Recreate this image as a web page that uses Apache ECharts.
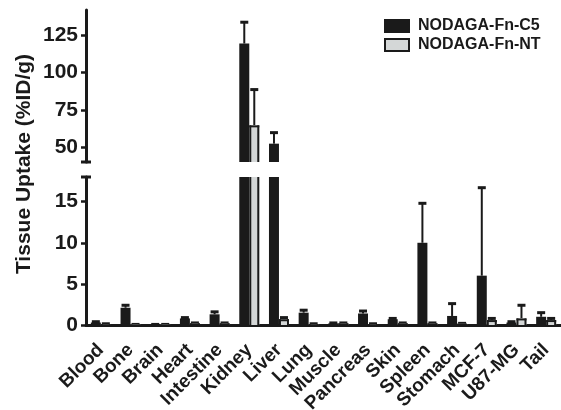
<!DOCTYPE html>
<html>
<head>
<meta charset="utf-8">
<script src="https://cdn.jsdelivr.net/npm/echarts@6/dist/echarts.min.js"></script>
<style>
html,body{margin:0;padding:0;background:#fff;}
#chart{width:561px;height:410px;}
</style>
</head>
<body>
<div id="chart"></div>
<script>
var categories = ['Blood','Bone','Brain','Heart','Intestine','Kidney','Liver','Lung','Muscle','Pancreas','Skin','Spleen','Stomach','MCF-7','U87-MG','Tail'];
var c5Values = [0.3, 2.1, 0.05, 0.8, 1.3, 119.5, 52.3, 1.5, 0.2, 1.4, 0.7, 10.0, 1.1, 6.0, 0.3, 1.0];
var c5Errors = [0.1, 0.3, 0.02, 0.1, 0.3, 14.3, 7.4, 0.3, 0.05, 0.3, 0.1, 4.8, 1.5, 10.7, 0.1, 0.5];
var ntValues = [0.1, 0.05, 0.05, 0.2, 0.2, 64.6, 0.7, 0.1, 0.2, 0.1, 0.2, 0.2, 0.15, 0.6, 0.8, 0.6];
var ntErrors = [0.05, 0.02, 0.02, 0.05, 0.05, 24, 0.2, 0.05, 0.05, 0.05, 0.05, 0.05, 0.05, 0.2, 1.6, 0.2];
var lowerTicks = [0, 5, 10, 15];
var upperTicks = [50, 75, 100, 125];
var seriesNames = ['NODAGA-Fn-C5', 'NODAGA-Fn-NT'];

var INK = '#1a1a1a';
var GRAY = '#d4d7d7';
var FONT = 'Liberation Sans, Arial, sans-serif';
var BAR_W = 10;
var chart = echarts.init(document.getElementById('chart'));

function clampY(y, cs) { return Math.min(Math.max(y, cs.y), cs.y + cs.height); }

// bar drawn with the axis scales; side: -1 = left of category centre, 0 = right
function barSeries(name, values, xi, yi, fill, outlined, side) {
  return {
    type: 'custom',
    name: name,
    xAxisIndex: xi, yAxisIndex: yi,
    z: 2,
    itemStyle: {color: fill, borderColor: INK, borderWidth: outlined ? 2 : 0},
    data: values.map(function (v, i) { return [i, v]; }),
    renderItem: function (params, api) {
      var cs = params.coordSys;
      var i = api.value(0), v = api.value(1);
      var pv = api.coord([i, v]);
      var pb = api.coord([i, 0]);
      var base = clampY(pb[1], cs);
      var top = clampY(pv[1], cs);
      if (top >= base) return null;
      var x0 = pv[0] + side * BAR_W;
      var x1 = x0 + BAR_W;
      var children = [{type: 'rect', shape: {x: x0, y: top, width: BAR_W, height: base - top}, style: {fill: fill}}];
      if (outlined) {
        var h = 1;
        children.push({type: 'line', shape: {x1: x0 + h, y1: top, x2: x0 + h, y2: base}, style: {stroke: INK, lineWidth: 2}});
        children.push({type: 'line', shape: {x1: x1 - h, y1: top, x2: x1 - h, y2: base}, style: {stroke: INK, lineWidth: 2}});
        if (pv[1] >= cs.y && pv[1] <= cs.y + cs.height) {
          children.push({type: 'line', shape: {x1: x0, y1: top + h, x2: x1, y2: top + h}, style: {stroke: INK, lineWidth: 2}});
        }
      }
      return {type: 'group', children: children};
    }
  };
}

function errorSeries(name, values, errors, xi, yi, offset) {
  return {
    type: 'custom',
    name: name,
    xAxisIndex: xi, yAxisIndex: yi,
    silent: true,
    z: 1,
    data: values.map(function (v, i) { return [i, v, v + errors[i]]; }),
    renderItem: function (params, api) {
      var cs = params.coordSys;
      var i = api.value(0);
      var p0 = api.coord([i, api.value(1)]);
      var p1 = api.coord([i, api.value(2)]);
      var x = p0[0] + offset;
      var y0 = clampY(p0[1], cs);
      var y1 = clampY(p1[1], cs);
      var children = [];
      if (y0 !== y1) {
        children.push({type: 'line', shape: {x1: x, y1: y0, x2: x, y2: y1}, style: {stroke: INK, lineWidth: 2}});
      }
      if (p1[1] >= cs.y && p1[1] <= cs.y + cs.height) {
        children.push({type: 'line', shape: {x1: x - 4, y1: p1[1], x2: x + 4, y2: p1[1]}, style: {stroke: INK, lineWidth: 3}});
      }
      return {type: 'group', children: children};
    }
  };
}

var labelStyle = {color: INK, fontSize: 21, fontWeight: 'bold', fontFamily: FONT, margin: 8};

var option = {
  animation: false,
  backgroundColor: '#fff',
  legend: {
    data: [
      {name: seriesNames[0], icon: 'rect', itemStyle: {color: INK, borderColor: INK, borderWidth: 2}},
      {name: seriesNames[1], icon: 'rect', itemStyle: {color: GRAY, borderColor: INK, borderWidth: 2}}
    ],
    orient: 'vertical',
    left: 384, top: 18, padding: 0,
    itemWidth: 24, itemHeight: 12, itemGap: 3,
    textStyle: {color: INK, fontSize: 16, fontWeight: 'bold', fontFamily: FONT, padding: [0, 0, 0, 4]}
  },
  graphic: [{
    type: 'text',
    x: 24, y: 164,
    rotation: Math.PI / 2,
    style: {text: 'Tissue Uptake (%ID/g)', font: 'bold 21px ' + FONT, fill: INK, textAlign: 'center', textVerticalAlign: 'middle'}
  }],
  grid: [
    {left: 86, right: 0, top: 177, height: 148, containLabel: false, outerBoundsMode: 'none'},
    {left: 86, right: 0, top: 10, height: 152, containLabel: false, outerBoundsMode: 'none'}
  ],
  xAxis: [
    {
      type: 'category', gridIndex: 0, data: categories,
      axisLine: {lineStyle: {color: INK, width: 3}},
      axisTick: {alignWithLabel: true, length: 7, lineStyle: {color: INK, width: 3}},
      axisLabel: {rotate: 45, interval: 0, color: INK, fontSize: 19, fontWeight: 'bold', fontFamily: FONT, margin: 22}
    },
    {type: 'category', gridIndex: 1, data: categories, show: false}
  ],
  yAxis: [
    {
      type: 'value', gridIndex: 0, min: 0, max: 18,
      splitLine: {show: false},
      axisLine: {show: true, symbol: ['none', 'rect'], symbolSize: [10, 3], lineStyle: {color: INK, width: 3}},
      axisTick: {show: true, length: 5, customValues: lowerTicks, lineStyle: {color: INK, width: 2.5}},
      axisLabel: Object.assign({customValues: lowerTicks}, labelStyle)
    },
    {
      type: 'value', gridIndex: 1, min: 40, max: 142,
      splitLine: {show: false},
      axisLine: {show: true, symbol: ['rect', 'none'], symbolSize: [10, 3], lineStyle: {color: INK, width: 3}},
      axisTick: {show: true, length: 5, customValues: upperTicks, lineStyle: {color: INK, width: 2.5}},
      axisLabel: Object.assign({customValues: upperTicks}, labelStyle)
    }
  ],
  series: [
    barSeries(seriesNames[0], c5Values, 0, 0, INK, false, -1),
    barSeries(seriesNames[1], ntValues, 0, 0, GRAY, true, 0),
    barSeries(seriesNames[0], c5Values, 1, 1, INK, false, -1),
    barSeries(seriesNames[1], ntValues, 1, 1, GRAY, true, 0),
    errorSeries(seriesNames[0], c5Values, c5Errors, 0, 0, -5),
    errorSeries(seriesNames[1], ntValues, ntErrors, 0, 0, 5),
    errorSeries(seriesNames[0], c5Values, c5Errors, 1, 1, -5),
    errorSeries(seriesNames[1], ntValues, ntErrors, 1, 1, 5)
  ]
};
chart.setOption(option);
</script>
</body>
</html>
